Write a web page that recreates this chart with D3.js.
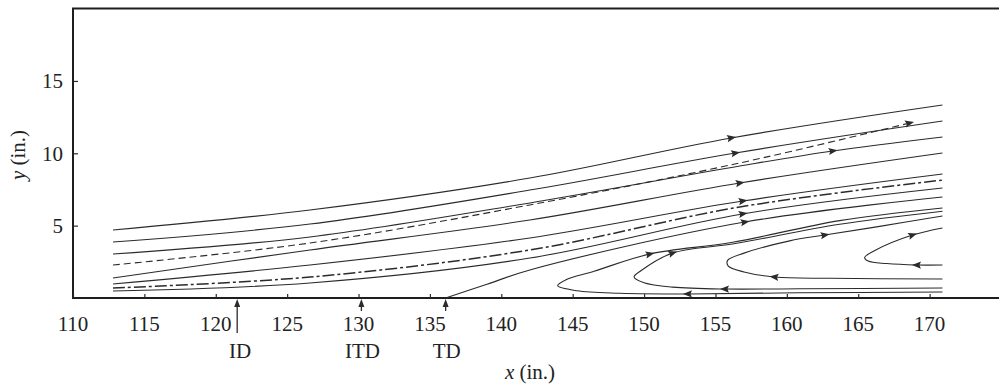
<!DOCTYPE html>
<html>
<head>
<meta charset="utf-8">
<script src="https://cdn.jsdelivr.net/npm/d3@7"></script>
<style>
body { margin: 0; background: #fff; }
text { font-family: "Liberation Serif", "Times New Roman", serif; fill: #222; }
</style>
</head>
<body>
<svg id="chart" width="999" height="386"></svg>
<script>
// axis ticks
var xTicks = [110, 115, 120, 125, 130, 135, 140, 145, 150, 155, 160, 165, 170];
var yTicks = [5, 10, 15];

// stations marked under the axis
var stationX = [121.5, 130.2, 136.1];
var stationNames = ["ID", "ITD", "TD"];

// streamlines, [x, y] in inches, listed in flow direction
var line1 = [[112.8, 4.70], [126.6, 6.08], [142.0, 8.29], [156.1, 11.06], [170.9, 13.34]];
var line2 = [[112.8, 3.87], [126.6, 5.11], [142.0, 7.46], [156.4, 10.02], [170.9, 12.23]];
var line3 = [[112.8, 3.04], [126.6, 4.22], [142.0, 6.57], [156.7, 9.12], [163.2, 10.16], [170.9, 11.13]];
var line4 = [[112.8, 1.38], [126.6, 3.32], [142.0, 5.39], [156.7, 7.95], [170.9, 10.02]];
var line5 = [[112.8, 0.97], [126.6, 2.28], [142.0, 4.15], [156.9, 6.70], [170.9, 8.57]];
var line6 = [[112.8, 0.48], [126.6, 1.04], [142.0, 2.76], [156.9, 5.81], [170.9, 7.60]];
var lineTD = [[136.1, 0.0], [139.0, 0.95], [142.0, 1.94], [157.05, 5.25], [170.9, 6.98]];

// dashed and dash-dot lines
var dashUpper = [[112.8, 2.28], [126.6, 3.80], [142.0, 6.43], [156.7, 9.33], [168.6, 12.09]];
var dashLower = [[112.8, 0.69], [126.6, 1.45], [142.0, 3.32], [156.7, 6.29], [170.9, 8.15]];

// recirculation loops near the floor (come in from the right, turn, go back out)
var loopA = [[170.9, 0.41], [160.9, 0.36], [153.06, 0.28], [148.3, 0.33], [145.3, 0.5], [143.95, 0.85],
             [144.5, 1.25], [146.5, 1.85], [150.4, 3.04], [156.2, 3.85], [163.7, 5.35], [170.9, 6.22]];
var loopB = [[170.9, 0.69], [160.9, 0.64], [155.65, 0.62], [152.0, 0.75], [150.0, 1.05], [149.3, 1.45],
             [149.8, 1.9], [152.0, 3.11], [156.3, 3.75], [163.7, 5.1], [170.9, 6.0]];
var loopC = [[170.9, 1.31], [163.0, 1.36], [159.15, 1.45], [157.0, 1.8], [155.9, 2.2], [155.85, 2.6],
             [157.0, 3.1], [160.2, 3.95], [162.65, 4.35], [166.5, 4.95], [170.9, 5.67]];
var loopD = [[170.9, 2.28], [169.1, 2.28], [167.0, 2.38], [165.7, 2.55], [165.45, 2.8], [166.2, 3.3],
             [168.8, 4.35], [170.9, 4.84]];

// arrowheads, [x, y] near a point of the line
var arrows1 = [[156.1, 11.06]];
var arrows2 = [[156.4, 10.02]];
var arrows3 = [[163.2, 10.16]];
var arrows4 = [[156.7, 7.95]];
var arrows5 = [[156.9, 6.70]];
var arrows6 = [[156.9, 5.81]];
var arrowsTD = [[157.05, 5.25]];
var arrowsDashUpper = [[168.6, 12.09]];
var arrowsA = [[153.06, 0.28], [150.4, 3.04]];
var arrowsB = [[155.65, 0.62], [152.0, 3.11]];
var arrowsC = [[159.15, 1.45], [162.65, 4.35]];
var arrowsD = [[169.1, 2.28], [168.8, 4.35]];

var svg = d3.select("#chart");

var x = d3.scaleLinear().domain([110, 175]).range([73, 1001]);
var y = d3.scaleLinear().domain([0, 20]).range([298, 8.6]);

var ink = "#2b2b2b";
var fontSize = "21px";

// frame
svg.append("path")
    .attr("d", "M" + x(175) + "," + y(20) + "H" + x(110) + "V" + y(0) + "H" + x(175))
    .attr("fill", "none")
    .attr("stroke", "#1e1e1e")
    .attr("stroke-width", 2);

// x axis (ticks pointing up into the plot)
var xAxis = d3.axisTop(x).tickValues(xTicks).tickSize(4).tickFormat("");
svg.append("g")
    .attr("transform", "translate(0," + y(0) + ")")
    .call(xAxis)
    .call(function (g) {
        g.select(".domain").remove();
        g.selectAll("line").attr("stroke", ink).attr("stroke-width", 1.2);
    });

svg.append("g").selectAll("text")
    .data(xTicks)
    .enter().append("text")
    .attr("x", function (d) { return x(d); })
    .attr("y", 331)
    .attr("text-anchor", "middle")
    .style("font-size", fontSize)
    .text(function (d) { return d; });

// y axis (ticks pointing right)
var yAxis = d3.axisRight(y).tickValues(yTicks).tickSize(5).tickFormat("");
svg.append("g")
    .attr("transform", "translate(" + x(110) + ",0)")
    .call(yAxis)
    .call(function (g) {
        g.select(".domain").remove();
        g.selectAll("line").attr("stroke", ink).attr("stroke-width", 1.2);
    });

svg.append("g").selectAll("text")
    .data(yTicks)
    .enter().append("text")
    .attr("x", 63)
    .attr("y", function (d) { return y(d); })
    .attr("dy", "0.35em")
    .attr("text-anchor", "end")
    .style("font-size", fontSize)
    .text(function (d) { return d; });

// axis titles
var xt = svg.append("text")
    .attr("x", 530)
    .attr("y", 379)
    .attr("text-anchor", "middle")
    .style("font-size", fontSize);
xt.append("tspan").style("font-style", "italic").text("x");
xt.append("tspan").text(" (in.)");

var yt = svg.append("text")
    .attr("transform", "translate(25,155) rotate(-90)")
    .attr("text-anchor", "middle")
    .style("font-size", fontSize);
yt.append("tspan").style("font-style", "italic").text("y");
yt.append("tspan").text(" (in.)");

// station markers
stationX.forEach(function (sx, i) {
    var px = x(sx);
    var shaftEnd = i == 0 ? 333 : 311;
    svg.append("line")
        .attr("x1", px).attr("x2", px)
        .attr("y1", y(0) + 4).attr("y2", shaftEnd)
        .attr("stroke", ink).attr("stroke-width", 1.3);
    svg.append("path")
        .attr("d", "M" + px + "," + (y(0) + 1) + "l-3,8h6z")
        .attr("fill", ink);
    svg.append("text")
        .attr("x", px + (i == 0 ? 3 : 1))
        .attr("y", 358)
        .attr("text-anchor", "middle")
        .style("font-size", fontSize)
        .text(stationNames[i]);
});

// streamlines
var lineGen = d3.line()
    .x(function (d) { return x(d[0]); })
    .y(function (d) { return y(d[1]); })
    .curve(d3.curveCatmullRom.alpha(0.5));

var streams = [
    { pts: line1, arrows: arrows1 },
    { pts: line2, arrows: arrows2 },
    { pts: line3, arrows: arrows3 },
    { pts: line4, arrows: arrows4 },
    { pts: line5, arrows: arrows5 },
    { pts: line6, arrows: arrows6 },
    { pts: lineTD, arrows: arrowsTD },
    { pts: dashUpper, arrows: arrowsDashUpper, dash: "7,4" },
    { pts: dashLower, arrows: [], dash: "12,3,3,3", width: 1.5 },
    { pts: loopA, arrows: arrowsA },
    { pts: loopB, arrows: arrowsB },
    { pts: loopC, arrows: arrowsC },
    { pts: loopD, arrows: arrowsD }
];

var plot = svg.append("g");

streams.forEach(function (s) {
    var path = plot.append("path")
        .attr("d", lineGen(s.pts))
        .attr("fill", "none")
        .attr("stroke", ink)
        .attr("stroke-width", s.width || 1.1)
        .attr("stroke-dasharray", s.dash || null);

    // put each arrowhead on the nearest point of the drawn curve, along its direction
    var node = path.node();
    var total = node.getTotalLength();
    var samples = [];
    for (var l = 0; l <= total; l += 0.5) samples.push(node.getPointAtLength(l));

    s.arrows.forEach(function (a) {
        var ax = x(a[0]), ay = y(a[1]);
        var best = 0, bestD = Infinity;
        samples.forEach(function (p, i) {
            var d = (p.x - ax) * (p.x - ax) + (p.y - ay) * (p.y - ay);
            if (d < bestD) { bestD = d; best = i; }
        });
        var p0 = samples[Math.max(best - 4, 0)];
        var p1 = samples[Math.min(best + 4, samples.length - 1)];
        var ang = Math.atan2(p1.y - p0.y, p1.x - p0.x) * 180 / Math.PI;
        var p = samples[best];
        plot.append("path")
            .attr("d", "M5,0L-4,-3.6L-2.5,0L-4,3.6Z")
            .attr("transform", "translate(" + p.x + "," + p.y + ") rotate(" + ang + ")")
            .attr("fill", ink);
    });
});
</script>
</body>
</html>
